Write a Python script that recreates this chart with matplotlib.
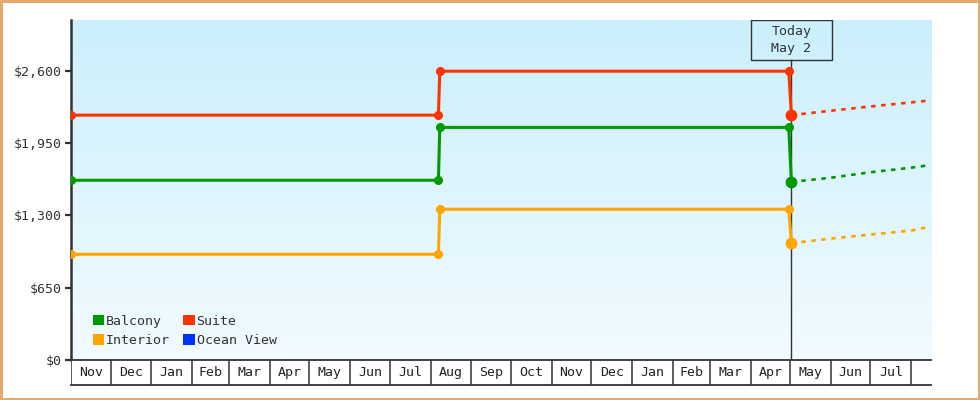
import numpy as np
import pandas as pd
import matplotlib
matplotlib.use('Agg')
import matplotlib.pyplot as plt
import matplotlib.dates as mdates
from matplotlib.patches import Patch, Rectangle
from matplotlib.colors import LinearSegmentedColormap
import matplotlib.transforms as mtransforms

# %% Data

hist_dates = ['2021-11-01', '2022-08-07', '2022-08-08', '2023-04-30', '2023-05-02']
balcony_hist = [1615, 1615, 2090, 2090, 1600]
suite_hist = [2200, 2200, 2595, 2595, 2200]
interior_hist = [950, 950, 1355, 1355, 1050]

fcst_dates = ['2023-05-02', '2023-06-01', '2023-07-01', '2023-08-01', '2023-08-12']
balcony_fcst = [1600, 1638, 1687, 1728, 1746]
suite_fcst = [2200, 2240, 2278, 2315, 2328]
interior_fcst = [1050, 1091, 1127, 1163, 1190]

cabins = ['Balcony', 'Suite', 'Interior', 'Ocean View']
colours = ['#009900', '#ff3300', '#ffa500', '#0033ff']

y_ticks = [0, 650, 1300, 1950, 2600]
today = '2023-05-02'
today_label = 'Today\nMay 2'
x_start, x_end = '2021-11-01', '2023-08-16'

# %% Style

plt.rcParams['font.family'] = ['DejaVu Sans Mono']
txt_col = '#333333'
fs = 9.5

hist_dates = pd.to_datetime(hist_dates)
fcst_dates = pd.to_datetime(fcst_dates)
today = pd.Timestamp(today)
x0, x1 = pd.Timestamp(x_start), pd.Timestamp(x_end)

fig = plt.figure(figsize=(9.8, 4), dpi=100)
fig.patch.set_facecolor('white')
fig.patch.set_edgecolor('#e6a96c')
fig.patch.set_linewidth(2.2)

ax = fig.add_axes([71/980, 40/400, 860/980, 340/400])
ax_m = fig.add_axes([71/980, 15/400, 860/980, 25/400], sharex=ax)

# Background gradient
grad_cmap = LinearSegmentedColormap.from_list('', ['#cbeffc', '#f2fbff'])
ax.imshow(np.linspace(0, 1, 256).reshape(-1, 1), cmap=grad_cmap, aspect='auto',
          extent=[0, 1, 0, 1], transform=ax.transAxes, zorder=0)

# %% Lines

series = [(balcony_hist, balcony_fcst, colours[0]),
          (suite_hist, suite_fcst, colours[1]),
          (interior_hist, interior_fcst, colours[2])]

for hist, fcst, col in series:
    ax.plot(hist_dates, hist, color=col, lw=2.2, zorder=3, solid_capstyle='butt')
    ax.plot(hist_dates[:-1], hist[:-1], 'o', color=col, ms=5.5, zorder=4)
    ax.plot(hist_dates[-1:], hist[-1:], 'o', color=col, ms=7.5, zorder=4)
    ax.plot(fcst_dates, fcst, color=col, lw=1.9, ls=(0, (1.7, 2.1)), zorder=3)

# Today marker
ax.axvline(today, ymin=0, ymax=1 - 40/340, color=txt_col, lw=1, zorder=2)
trans = mtransforms.blended_transform_factory(ax.transData, ax.transAxes)
half_w = pd.Timedelta(days=30.5)
box = Rectangle((mdates.date2num(today - half_w), 1 - 40/340), 61, 40/340,
                transform=trans, fill=False, edgecolor=txt_col, lw=1, zorder=5)
ax.add_patch(box)
ax.text(today, 1 - 20/340, today_label, transform=trans, ha='center', va='center',
        fontsize=fs, color=txt_col, linespacing=1.35, zorder=6)

# %% Axes formatting

ax.set_xlim(x0, x1)
ax.set_ylim(0, 3055)
ax.set_yticks(y_ticks)
ax.yaxis.set_major_formatter(matplotlib.ticker.StrMethodFormatter('${x:,.0f}'))
ax.tick_params(axis='y', length=4.5, width=1.6, color=txt_col, pad=2.5,
               labelsize=fs, labelcolor=txt_col)
ax.tick_params(axis='x', bottom=False, labelbottom=False)
for s in ['top', 'right', 'bottom']:
    ax.spines[s].set_visible(False)
ax.spines['left'].set_color(txt_col)
ax.spines['left'].set_linewidth(1.8)

# Month cells
month_starts = pd.date_range(x0, x1, freq='MS')
for i, m in enumerate(month_starts):
    ax_m.axvline(m, color=txt_col, lw=1.1)
    if i + 1 < len(month_starts):
        mid = m + (month_starts[i + 1] - m) / 2
        ax_m.text(mid, 0.5, m.strftime('%b'), ha='center', va='center',
                  fontsize=fs, color='#222222')
ax_m.set_ylim(0, 1)
ax_m.set_yticks([])
ax_m.tick_params(axis='x', bottom=False, labelbottom=False)
ax_m.set_facecolor('white')
for s in ['left', 'right']:
    ax_m.spines[s].set_visible(False)
for s in ['top', 'bottom']:
    ax_m.spines[s].set_color(txt_col)
    ax_m.spines[s].set_linewidth(1.3)

# Legend (column-major fill, so reorder to read row-wise)
order = [0, 2, 1, 3]
handles = [Patch(facecolor=colours[i], edgecolor='none') for i in order]
ax.legend(handles, [cabins[i] for i in order], ncol=2, loc='lower left', frameon=False,
          bbox_to_anchor=((93 - 71) / 860, (360 - 347) / 340),
          borderpad=0, borderaxespad=0, fontsize=fs, handlelength=0.85,
          handleheight=0.85, handletextpad=0.15, columnspacing=1.0,
          labelspacing=0.48, labelcolor=txt_col)

fig.savefig('out.png', dpi=100, facecolor='white', edgecolor=fig.get_edgecolor())
